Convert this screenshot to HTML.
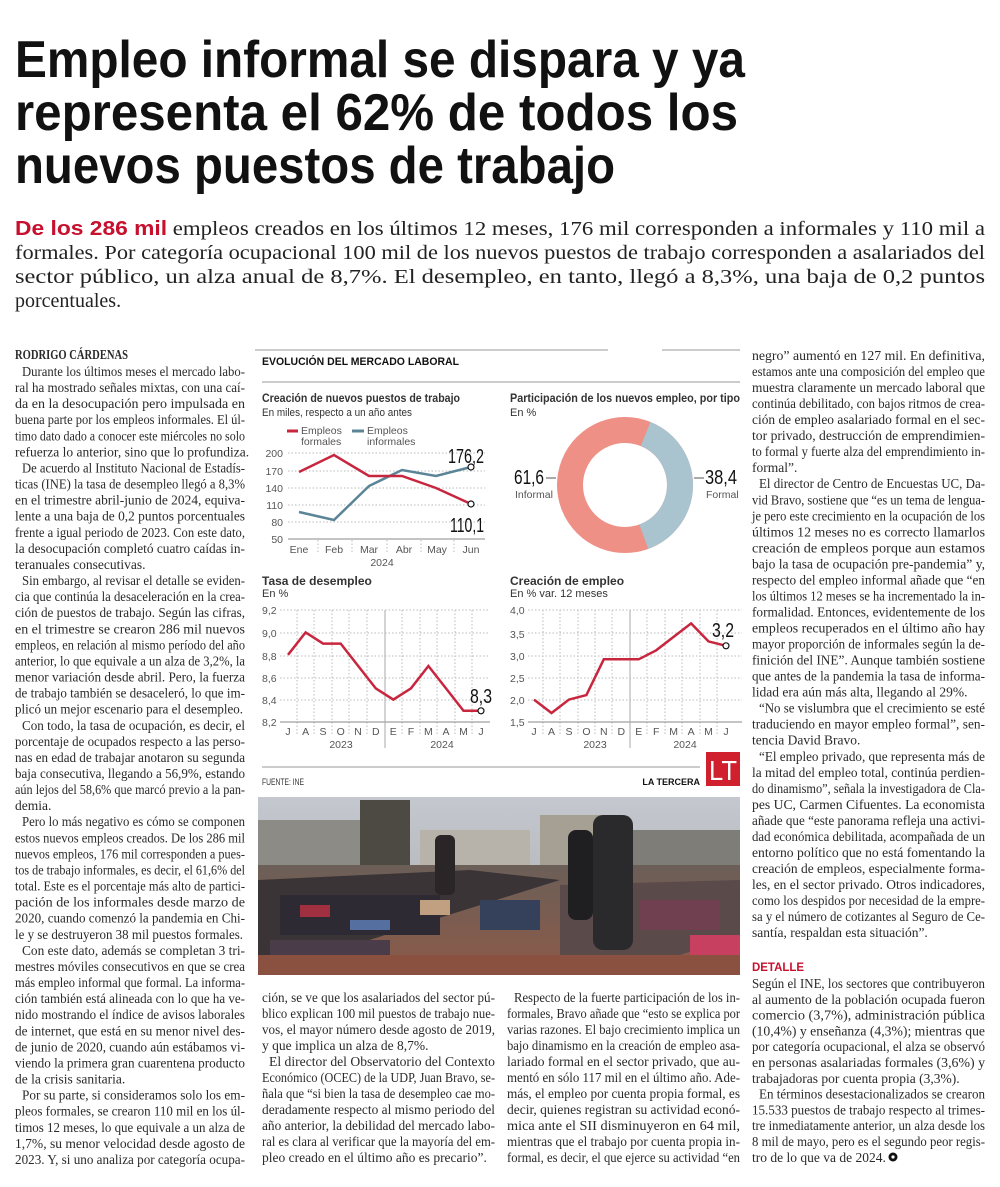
<!DOCTYPE html>
<html><head><meta charset="utf-8"><style>
html,body{margin:0;padding:0;background:#fff;}
svg{display:block}
.t{font-family:"Liberation Sans",sans-serif;font-weight:bold;font-size:52px;fill:#111}
.l{font-family:"Liberation Serif",serif;font-size:20px;fill:#222}
.b{font-family:"Liberation Serif",serif;font-size:13.5px;fill:#2a2a2a}
.s{font-family:"Liberation Sans",sans-serif;fill:#333}
.ax{font-family:"Liberation Sans",sans-serif;font-size:10.5px;fill:#555}
.g{stroke:#bbb;stroke-width:1;stroke-dasharray:1.5 2}
</style></head><body>
<svg width="1000" height="1187" viewBox="0 0 1000 1187" xmlns="http://www.w3.org/2000/svg">
<rect width="1000" height="1187" fill="#fff"/>
<text class="t" x="15" y="77" textLength="730" lengthAdjust="spacingAndGlyphs">Empleo informal se dispara y ya</text>
<text class="t" x="15" y="130" textLength="723" lengthAdjust="spacingAndGlyphs">representa el 62% de todos los</text>
<text class="t" x="15" y="183" textLength="600" lengthAdjust="spacingAndGlyphs">nuevos puestos de trabajo</text>
<text class="l" x="15" y="235" textLength="970" lengthAdjust="spacingAndGlyphs"><tspan fill="#c8102e" font-weight="bold" font-family="Liberation Sans, sans-serif">De los 286 mil</tspan> empleos creados en los últimos 12 meses, 176 mil corresponden a informales y 110 mil a</text>
<text class="l" x="15" y="259" textLength="970" lengthAdjust="spacingAndGlyphs">formales. Por categoría ocupacional 100 mil de los nuevos puestos de trabajo corresponden a asalariados del</text>
<text class="l" x="15" y="283" textLength="970" lengthAdjust="spacingAndGlyphs">sector público, un alza anual de 8,7%. El desempleo, en tanto, llegó a 8,3%, una baja de 0,2 puntos</text>
<text class="l" x="15" y="307">porcentuales.</text>

<text class="b" x="15" y="359" font-weight="bold" font-size="11" textLength="113" lengthAdjust="spacingAndGlyphs">RODRIGO CÁRDENAS</text>
<g class="b">
<text x="22" y="376" textLength="223" lengthAdjust="spacingAndGlyphs">Durante los últimos meses el mercado labo-</text>
<text x="15" y="392.1" textLength="230" lengthAdjust="spacingAndGlyphs">ral ha mostrado señales mixtas, con una caí-</text>
<text x="15" y="408.2" textLength="230" lengthAdjust="spacingAndGlyphs">da en la desocupación pero impulsada en</text>
<text x="15" y="424.2" textLength="230" lengthAdjust="spacingAndGlyphs">buena parte por los empleos informales. El úl-</text>
<text x="15" y="440.3" textLength="230" lengthAdjust="spacingAndGlyphs">timo dato dado a conocer este miércoles no solo</text>
<text x="15" y="456.4">refuerza lo anterior, sino que lo profundiza.</text>
<text x="22" y="472.5" textLength="223" lengthAdjust="spacingAndGlyphs">De acuerdo al Instituto Nacional de Estadís-</text>
<text x="15" y="488.6" textLength="230" lengthAdjust="spacingAndGlyphs">ticas (INE) la tasa de desempleo llegó a 8,3%</text>
<text x="15" y="504.6" textLength="230" lengthAdjust="spacingAndGlyphs">en el trimestre abril-junio de 2024, equiva-</text>
<text x="15" y="520.7" textLength="230" lengthAdjust="spacingAndGlyphs">lente a una baja de 0,2 puntos porcentuales</text>
<text x="15" y="536.8" textLength="230" lengthAdjust="spacingAndGlyphs">frente a igual periodo de 2023. Con este dato,</text>
<text x="15" y="552.9" textLength="230" lengthAdjust="spacingAndGlyphs">la desocupación completó cuatro caídas in-</text>
<text x="15" y="569">teranuales consecutivas.</text>
<text x="22" y="585" textLength="223" lengthAdjust="spacingAndGlyphs">Sin embargo, al revisar el detalle se eviden-</text>
<text x="15" y="601.1" textLength="230" lengthAdjust="spacingAndGlyphs">cia que continúa la desaceleración en la crea-</text>
<text x="15" y="617.2" textLength="230" lengthAdjust="spacingAndGlyphs">ción de puestos de trabajo. Según las cifras,</text>
<text x="15" y="633.3" textLength="230" lengthAdjust="spacingAndGlyphs">en el trimestre se crearon 286 mil nuevos</text>
<text x="15" y="649.4" textLength="230" lengthAdjust="spacingAndGlyphs">empleos, en relación al mismo período del año</text>
<text x="15" y="665.4" textLength="230" lengthAdjust="spacingAndGlyphs">anterior, lo que equivale a un alza de 3,2%, la</text>
<text x="15" y="681.5" textLength="230" lengthAdjust="spacingAndGlyphs">menor variación desde abril. Pero, la fuerza</text>
<text x="15" y="697.6" textLength="230" lengthAdjust="spacingAndGlyphs">de trabajo también se desaceleró, lo que im-</text>
<text x="15" y="713.7" textLength="228" lengthAdjust="spacingAndGlyphs">plicó un mejor escenario para el desempleo.</text>
<text x="22" y="729.8" textLength="223" lengthAdjust="spacingAndGlyphs">Con todo, la tasa de ocupación, es decir, el</text>
<text x="15" y="745.8" textLength="230" lengthAdjust="spacingAndGlyphs">porcentaje de ocupados respecto a las perso-</text>
<text x="15" y="761.9" textLength="230" lengthAdjust="spacingAndGlyphs">nas en edad de trabajar anotaron su segunda</text>
<text x="15" y="778" textLength="230" lengthAdjust="spacingAndGlyphs">baja consecutiva, llegando a 56,9%, estando</text>
<text x="15" y="794.1" textLength="230" lengthAdjust="spacingAndGlyphs">aún lejos del 58,6% que marcó previo a la pan-</text>
<text x="15" y="810.2">demia.</text>
<text x="22" y="826.2" textLength="223" lengthAdjust="spacingAndGlyphs">Pero lo más negativo es cómo se componen</text>
<text x="15" y="842.3" textLength="230" lengthAdjust="spacingAndGlyphs">estos nuevos empleos creados. De los 286 mil</text>
<text x="15" y="858.4" textLength="230" lengthAdjust="spacingAndGlyphs">nuevos empleos, 176 mil corresponden a pues-</text>
<text x="15" y="874.5" textLength="230" lengthAdjust="spacingAndGlyphs">tos de trabajo informales, es decir, el 61,6% del</text>
<text x="15" y="890.6" textLength="230" lengthAdjust="spacingAndGlyphs">total. Este es el porcentaje más alto de partici-</text>
<text x="15" y="906.6" textLength="230" lengthAdjust="spacingAndGlyphs">pación de los informales desde marzo de</text>
<text x="15" y="922.7" textLength="230" lengthAdjust="spacingAndGlyphs">2020, cuando comenzó la pandemia en Chi-</text>
<text x="15" y="938.8" textLength="228" lengthAdjust="spacingAndGlyphs">le y se destruyeron 38 mil puestos formales.</text>
<text x="22" y="954.9" textLength="223" lengthAdjust="spacingAndGlyphs">Con este dato, además se completan 3 tri-</text>
<text x="15" y="971" textLength="230" lengthAdjust="spacingAndGlyphs">mestres móviles consecutivos en que se crea</text>
<text x="15" y="987" textLength="230" lengthAdjust="spacingAndGlyphs">más empleo informal que formal. La informa-</text>
<text x="15" y="1003.1" textLength="230" lengthAdjust="spacingAndGlyphs">ción también está alineada con lo que ha ve-</text>
<text x="15" y="1019.2" textLength="230" lengthAdjust="spacingAndGlyphs">nido mostrando el índice de avisos laborales</text>
<text x="15" y="1035.3" textLength="230" lengthAdjust="spacingAndGlyphs">de internet, que está en su menor nivel des-</text>
<text x="15" y="1051.4" textLength="230" lengthAdjust="spacingAndGlyphs">de junio de 2020, cuando aún estábamos vi-</text>
<text x="15" y="1067.4" textLength="230" lengthAdjust="spacingAndGlyphs">viendo la primera gran cuarentena producto</text>
<text x="15" y="1083.5">de la crisis sanitaria.</text>
<text x="22" y="1099.6" textLength="223" lengthAdjust="spacingAndGlyphs">Por su parte, si consideramos solo los em-</text>
<text x="15" y="1115.7" textLength="230" lengthAdjust="spacingAndGlyphs">pleos formales, se crearon 110 mil en los úl-</text>
<text x="15" y="1131.8" textLength="230" lengthAdjust="spacingAndGlyphs">timos 12 meses, lo que equivale a un alza de</text>
<text x="15" y="1147.8" textLength="230" lengthAdjust="spacingAndGlyphs">1,7%, su menor velocidad desde agosto de</text>
<text x="15" y="1163.9" textLength="230" lengthAdjust="spacingAndGlyphs">2023. Y, si uno analiza por categoría ocupa-</text>
</g>

<g class="b">
<text x="752" y="360" textLength="233" lengthAdjust="spacingAndGlyphs">negro” aumentó en 127 mil. En definitiva,</text>
<text x="752" y="376" textLength="233" lengthAdjust="spacingAndGlyphs">estamos ante una composición del empleo que</text>
<text x="752" y="392.1" textLength="233" lengthAdjust="spacingAndGlyphs">muestra claramente un mercado laboral que</text>
<text x="752" y="408.1" textLength="233" lengthAdjust="spacingAndGlyphs">continúa debilitado, con bajos ritmos de crea-</text>
<text x="752" y="424.1" textLength="233" lengthAdjust="spacingAndGlyphs">ción de empleo asalariado formal en el sec-</text>
<text x="752" y="440.2" textLength="233" lengthAdjust="spacingAndGlyphs">tor privado, destrucción de emprendimien-</text>
<text x="752" y="456.2" textLength="233" lengthAdjust="spacingAndGlyphs">to formal y fuerte alza del emprendimiento in-</text>
<text x="752" y="472.2">formal”.</text>
<text x="759" y="488.2" textLength="226" lengthAdjust="spacingAndGlyphs">El director de Centro de Encuestas UC, Da-</text>
<text x="752" y="504.3" textLength="233" lengthAdjust="spacingAndGlyphs">vid Bravo, sostiene que “es un tema de lengua-</text>
<text x="752" y="520.3" textLength="233" lengthAdjust="spacingAndGlyphs">je pero este crecimiento en la ocupación de los</text>
<text x="752" y="536.3" textLength="233" lengthAdjust="spacingAndGlyphs">últimos 12 meses no es correcto llamarlos</text>
<text x="752" y="552.4" textLength="233" lengthAdjust="spacingAndGlyphs">creación de empleos porque aun estamos</text>
<text x="752" y="568.4" textLength="233" lengthAdjust="spacingAndGlyphs">bajo la tasa de ocupación pre-pandemia” y,</text>
<text x="752" y="584.4" textLength="233" lengthAdjust="spacingAndGlyphs">respecto del empleo informal añade que “en</text>
<text x="752" y="600.4" textLength="233" lengthAdjust="spacingAndGlyphs">los últimos 12 meses se ha incrementado la in-</text>
<text x="752" y="616.5" textLength="233" lengthAdjust="spacingAndGlyphs">formalidad. Entonces, evidentemente de los</text>
<text x="752" y="632.5" textLength="233" lengthAdjust="spacingAndGlyphs">empleos recuperados en el último año hay</text>
<text x="752" y="648.5" textLength="233" lengthAdjust="spacingAndGlyphs">mayor proporción de informales según la de-</text>
<text x="752" y="664.6" textLength="233" lengthAdjust="spacingAndGlyphs">finición del INE”. Aunque también sostiene</text>
<text x="752" y="680.6" textLength="233" lengthAdjust="spacingAndGlyphs">que antes de la pandemia la tasa de informa-</text>
<text x="752" y="696.6">lidad era aún más alta, llegando al 29%.</text>
<text x="759" y="712.7" textLength="226" lengthAdjust="spacingAndGlyphs">“No se vislumbra que el crecimiento se esté</text>
<text x="752" y="728.7" textLength="233" lengthAdjust="spacingAndGlyphs">traduciendo en mayor empleo formal”, sen-</text>
<text x="752" y="744.7">tencia David Bravo.</text>
<text x="759" y="760.8" textLength="226" lengthAdjust="spacingAndGlyphs">“El empleo privado, que representa más de</text>
<text x="752" y="776.8" textLength="233" lengthAdjust="spacingAndGlyphs">la mitad del empleo total, continúa perdien-</text>
<text x="752" y="792.8" textLength="233" lengthAdjust="spacingAndGlyphs">do dinamismo”, señala la investigadora de Cla-</text>
<text x="752" y="808.9" textLength="233" lengthAdjust="spacingAndGlyphs">pes UC, Carmen Cifuentes. La economista</text>
<text x="752" y="824.9" textLength="233" lengthAdjust="spacingAndGlyphs">añade que “este panorama refleja una activi-</text>
<text x="752" y="840.9" textLength="233" lengthAdjust="spacingAndGlyphs">dad económica debilitada, acompañada de un</text>
<text x="752" y="857" textLength="233" lengthAdjust="spacingAndGlyphs">entorno político que no está fomentando la</text>
<text x="752" y="873" textLength="233" lengthAdjust="spacingAndGlyphs">creación de empleos, especialmente forma-</text>
<text x="752" y="889" textLength="233" lengthAdjust="spacingAndGlyphs">les, en el sector privado. Otros indicadores,</text>
<text x="752" y="905" textLength="233" lengthAdjust="spacingAndGlyphs">como los despidos por necesidad de la empre-</text>
<text x="752" y="921.1" textLength="233" lengthAdjust="spacingAndGlyphs">sa y el número de cotizantes al Seguro de Ce-</text>
<text x="752" y="937.1">santía, respaldan esta situación”.</text>
</g>
<text x="752" y="971" font-family="Liberation Sans, sans-serif" font-weight="bold" font-size="12" fill="#c8102e" textLength="52" lengthAdjust="spacingAndGlyphs">DETALLE</text>
<g class="b">
<text x="752" y="988" textLength="233" lengthAdjust="spacingAndGlyphs">Según el INE, los sectores que contribuyeron</text>
<text x="752" y="1003.8" textLength="233" lengthAdjust="spacingAndGlyphs">al aumento de la población ocupada fueron</text>
<text x="752" y="1019.6" textLength="233" lengthAdjust="spacingAndGlyphs">comercio (3,7%), administración pública</text>
<text x="752" y="1035.4" textLength="233" lengthAdjust="spacingAndGlyphs">(10,4%) y enseñanza (4,3%); mientras que</text>
<text x="752" y="1051.2" textLength="233" lengthAdjust="spacingAndGlyphs">por categoría ocupacional, el alza se observó</text>
<text x="752" y="1067" textLength="233" lengthAdjust="spacingAndGlyphs">en personas asalariadas formales (3,6%) y</text>
<text x="752" y="1082.8">trabajadoras por cuenta propia (3,3%).</text>
<text x="759" y="1098.6" textLength="226" lengthAdjust="spacingAndGlyphs">En términos desestacionalizados se crearon</text>
<text x="752" y="1114.4" textLength="233" lengthAdjust="spacingAndGlyphs">15.533 puestos de trabajo respecto al trimes-</text>
<text x="752" y="1130.2" textLength="233" lengthAdjust="spacingAndGlyphs">tre inmediatamente anterior, un alza desde los</text>
<text x="752" y="1146" textLength="233" lengthAdjust="spacingAndGlyphs">8 mil de mayo, pero es el segundo peor regis-</text>
<text x="752" y="1161.8">tro de lo que va de 2024.</text>
</g>
<circle cx="893" cy="1157" r="4.5" fill="#111"/><circle cx="893" cy="1157" r="1.6" fill="#fff"/>

<g class="b">
<text x="262" y="1002" textLength="233" lengthAdjust="spacingAndGlyphs">ción, se ve que los asalariados del sector pú-</text>
<text x="262" y="1018" textLength="233" lengthAdjust="spacingAndGlyphs">blico explican 100 mil puestos de trabajo nue-</text>
<text x="262" y="1034" textLength="233" lengthAdjust="spacingAndGlyphs">vos, el mayor número desde agosto de 2019,</text>
<text x="262" y="1050">y que implica un alza de 8,7%.</text>
<text x="269" y="1066" textLength="226" lengthAdjust="spacingAndGlyphs">El director del Observatorio del Contexto</text>
<text x="262" y="1082" textLength="233" lengthAdjust="spacingAndGlyphs">Económico (OCEC) de la UDP, Juan Bravo, se-</text>
<text x="262" y="1098" textLength="233" lengthAdjust="spacingAndGlyphs">ñala que “si bien la tasa de desempleo cae mo-</text>
<text x="262" y="1114" textLength="233" lengthAdjust="spacingAndGlyphs">deradamente respecto al mismo periodo del</text>
<text x="262" y="1130" textLength="233" lengthAdjust="spacingAndGlyphs">año anterior, la debilidad del mercado labo-</text>
<text x="262" y="1146" textLength="233" lengthAdjust="spacingAndGlyphs">ral es clara al verificar que la mayoría del em-</text>
<text x="262" y="1162">pleo creado en el último año es precario”.</text>
<text x="514" y="1002" textLength="226" lengthAdjust="spacingAndGlyphs">Respecto de la fuerte participación de los in-</text>
<text x="507" y="1018" textLength="233" lengthAdjust="spacingAndGlyphs">formales, Bravo añade que “esto se explica por</text>
<text x="507" y="1034" textLength="233" lengthAdjust="spacingAndGlyphs">varias razones. El bajo crecimiento implica un</text>
<text x="507" y="1050" textLength="233" lengthAdjust="spacingAndGlyphs">bajo dinamismo en la creación de empleo asa-</text>
<text x="507" y="1066" textLength="233" lengthAdjust="spacingAndGlyphs">lariado formal en el sector privado, que au-</text>
<text x="507" y="1082" textLength="233" lengthAdjust="spacingAndGlyphs">mentó en sólo 117 mil en el último año. Ade-</text>
<text x="507" y="1098" textLength="233" lengthAdjust="spacingAndGlyphs">más, el empleo por cuenta propia formal, es</text>
<text x="507" y="1114" textLength="233" lengthAdjust="spacingAndGlyphs">decir, quienes registran su actividad econó-</text>
<text x="507" y="1130" textLength="233" lengthAdjust="spacingAndGlyphs">mica ante el SII disminuyeron en 64 mil,</text>
<text x="507" y="1146" textLength="233" lengthAdjust="spacingAndGlyphs">mientras que el trabajo por cuenta propia in-</text>
<text x="507" y="1162" textLength="233" lengthAdjust="spacingAndGlyphs">formal, es decir, el que ejerce su actividad “en</text>
</g>

<line x1="255" y1="350" x2="608" y2="350" stroke="#999" stroke-width="1"/>
<line x1="662" y1="350" x2="740" y2="350" stroke="#999" stroke-width="1"/>
<text x="262" y="365" font-family="Liberation Sans, sans-serif" font-weight="bold" font-size="11" fill="#111" textLength="197" lengthAdjust="spacingAndGlyphs">EVOLUCIÓN DEL MERCADO LABORAL</text>
<line x1="262" y1="382" x2="740" y2="382" stroke="#999" stroke-width="1"/>

<text class="s" x="262" y="402" font-weight="bold" font-size="12" fill="#111" textLength="198" lengthAdjust="spacingAndGlyphs">Creación de nuevos puestos de trabajo</text>
<text class="s" x="262" y="416" font-size="11" textLength="150" lengthAdjust="spacingAndGlyphs">En miles, respecto a un año antes</text>
<line x1="287" y1="431" x2="298" y2="431" stroke="#c8263e" stroke-width="3"/>
<text class="ax" x="301" y="434" font-size="10">Empleos</text><text class="ax" x="301" y="445" font-size="10">formales</text>
<line x1="352" y1="431" x2="364" y2="431" stroke="#5b8497" stroke-width="3"/>
<text class="ax" x="367" y="434" font-size="10">Empleos</text><text class="ax" x="367" y="445" font-size="10">informales</text>
<g class="ax" text-anchor="end">
<text x="283" y="457">200</text><text x="283" y="475">170</text><text x="283" y="492">140</text><text x="283" y="509">110</text><text x="283" y="526">80</text><text x="283" y="543">50</text>
</g>
<g class="g"><line x1="288" y1="453" x2="485" y2="453"/><line x1="288" y1="471" x2="485" y2="471"/><line x1="288" y1="488" x2="485" y2="488"/><line x1="288" y1="505" x2="485" y2="505"/><line x1="288" y1="522" x2="485" y2="522"/></g>
<line x1="288" y1="539" x2="485" y2="539" stroke="#888"/>
<g class="g"><line x1="318" y1="540" x2="318" y2="553"/><line x1="352" y1="540" x2="352" y2="553"/><line x1="387" y1="540" x2="387" y2="553"/><line x1="421" y1="540" x2="421" y2="553"/><line x1="454" y1="540" x2="454" y2="553"/></g>
<g class="ax" text-anchor="middle">
<text x="299" y="553">Ene</text><text x="334" y="553">Feb</text><text x="369" y="553">Mar</text><text x="404" y="553">Abr</text><text x="437" y="553">May</text><text x="471" y="553">Jun</text><text x="382" y="566">2024</text>
</g>
<polyline points="299,512 334,520 369,486 402,470 436,476 471,467" fill="none" stroke="#5b8497" stroke-width="2.5"/>
<polyline points="299,472 334,455 369,476 402,476 436,488 471,504" fill="none" stroke="#c8263e" stroke-width="2.5"/>
<circle cx="471" cy="467" r="3" fill="#fff" stroke="#111" stroke-width="1.2"/>
<circle cx="471" cy="504" r="3" fill="#fff" stroke="#111" stroke-width="1.2"/>
<text x="448" y="463" font-family="Liberation Sans, sans-serif" font-size="20" fill="#111" textLength="36" lengthAdjust="spacingAndGlyphs">176,2</text>
<text x="450" y="532" font-family="Liberation Sans, sans-serif" font-size="20" fill="#111" textLength="34" lengthAdjust="spacingAndGlyphs">110,1</text>

<text class="s" x="510" y="402" font-weight="bold" font-size="12" fill="#111" textLength="230" lengthAdjust="spacingAndGlyphs">Participación de los nuevos empleo, por tipo</text>
<text class="s" x="510" y="416" font-size="11">En %</text>
<circle cx="625" cy="485" r="55" fill="none" stroke="#ee9085" stroke-width="26"/>
<path d="M645.6,434 A55,55 0 0 1 643.8,536.7" fill="none" stroke="#a9c3cf" stroke-width="26"/>
<text x="514" y="484" font-family="Liberation Sans, sans-serif" font-size="20" fill="#111" textLength="30" lengthAdjust="spacingAndGlyphs">61,6</text>
<line x1="546" y1="478" x2="556" y2="478" stroke="#555"/>
<text class="ax" x="515" y="498" font-size="10.5" fill="#333">Informal</text>
<text x="705" y="484" font-family="Liberation Sans, sans-serif" font-size="20" fill="#111" textLength="32" lengthAdjust="spacingAndGlyphs">38,4</text>
<line x1="694" y1="478" x2="704" y2="478" stroke="#555"/>
<text class="ax" x="706" y="498" font-size="10.5" fill="#333">Formal</text>

<text class="s" x="262" y="585" font-weight="bold" font-size="12" fill="#111">Tasa de desempleo</text>
<text class="s" x="262" y="597" font-size="11">En %</text>
<g class="ax"><text x="262" y="614">9,2</text><text x="262" y="637">9,0</text><text x="262" y="660">8,8</text><text x="262" y="682">8,6</text><text x="262" y="704">8,4</text><text x="262" y="726">8,2</text></g>
<g class="g"><line x1="280" y1="610" x2="490" y2="610"/><line x1="280" y1="633" x2="490" y2="633"/><line x1="280" y1="656" x2="490" y2="656"/><line x1="280" y1="678" x2="490" y2="678"/><line x1="280" y1="700" x2="490" y2="700"/>
<line x1="297" y1="610" x2="297" y2="735"/><line x1="314" y1="610" x2="314" y2="735"/><line x1="332" y1="610" x2="332" y2="735"/><line x1="349" y1="610" x2="349" y2="735"/><line x1="367" y1="610" x2="367" y2="735"/><line x1="402" y1="610" x2="402" y2="735"/><line x1="420" y1="610" x2="420" y2="735"/><line x1="437" y1="610" x2="437" y2="735"/><line x1="455" y1="610" x2="455" y2="735"/><line x1="472" y1="610" x2="472" y2="735"/></g>
<line x1="280" y1="722" x2="490" y2="722" stroke="#888"/>
<line x1="385" y1="610" x2="385" y2="748" stroke="#aaa"/>
<g class="ax" text-anchor="middle"><text x="288" y="735">J</text><text x="305.6" y="735">A</text><text x="323" y="735">S</text><text x="340.7" y="735">O</text><text x="358" y="735">N</text><text x="375.8" y="735">D</text><text x="393.3" y="735">E</text><text x="411" y="735">F</text><text x="428.4" y="735">M</text><text x="446" y="735">A</text><text x="463.5" y="735">M</text><text x="481" y="735">J</text>
<text x="341" y="748">2023</text><text x="442" y="748">2024</text></g>
<polyline points="288,654.8 305.6,632.4 323.1,643.6 340.7,643.6 358.2,666 375.8,688.4 393.3,699.6 410.9,688.4 428.4,666 446,688.4 463.5,710.8 481,710.8" fill="none" stroke="#c8263e" stroke-width="2.5"/>
<circle cx="481" cy="710.8" r="3" fill="#fff" stroke="#111" stroke-width="1.2"/>
<text x="470" y="703" font-family="Liberation Sans, sans-serif" font-size="20" fill="#111" textLength="22" lengthAdjust="spacingAndGlyphs">8,3</text>

<text class="s" x="510" y="585" font-weight="bold" font-size="12" fill="#111">Creación de empleo</text>
<text class="s" x="510" y="597" font-size="11">En % var. 12 meses</text>
<g class="ax"><text x="510" y="614">4,0</text><text x="510" y="638">3,5</text><text x="510" y="660">3,0</text><text x="510" y="682">2,5</text><text x="510" y="704">2,0</text><text x="510" y="726">1,5</text></g>
<g class="g"><line x1="528" y1="610" x2="742" y2="610"/><line x1="528" y1="633" x2="742" y2="633"/><line x1="528" y1="656" x2="742" y2="656"/><line x1="528" y1="678" x2="742" y2="678"/><line x1="528" y1="700" x2="742" y2="700"/>
<line x1="543" y1="610" x2="543" y2="735"/><line x1="560" y1="610" x2="560" y2="735"/><line x1="578" y1="610" x2="578" y2="735"/><line x1="595" y1="610" x2="595" y2="735"/><line x1="612" y1="610" x2="612" y2="735"/><line x1="647" y1="610" x2="647" y2="735"/><line x1="665" y1="610" x2="665" y2="735"/><line x1="682" y1="610" x2="682" y2="735"/><line x1="700" y1="610" x2="700" y2="735"/><line x1="717" y1="610" x2="717" y2="735"/></g>
<line x1="528" y1="722" x2="742" y2="722" stroke="#888"/>
<line x1="630" y1="610" x2="630" y2="748" stroke="#aaa"/>
<g class="ax" text-anchor="middle"><text x="534" y="735">J</text><text x="551.5" y="735">A</text><text x="569" y="735">S</text><text x="586.4" y="735">O</text><text x="603.8" y="735">N</text><text x="621.3" y="735">D</text><text x="638.7" y="735">E</text><text x="656.2" y="735">F</text><text x="673.6" y="735">M</text><text x="691.1" y="735">A</text><text x="708.5" y="735">M</text><text x="726" y="735">J</text>
<text x="595" y="748">2023</text><text x="685" y="748">2024</text></g>
<polyline points="534,699.6 551.5,713 568.9,699.6 586.4,695.1 603.8,659.3 621.3,659.3 638.7,659.3 656.2,650.3 673.6,636.9 691.1,623.4 708.5,641.4 726,645.8" fill="none" stroke="#c8263e" stroke-width="2.5"/>
<circle cx="726" cy="645.8" r="3" fill="#fff" stroke="#111" stroke-width="1.2"/>
<text x="712" y="637" font-family="Liberation Sans, sans-serif" font-size="20" fill="#111" textLength="22" lengthAdjust="spacingAndGlyphs">3,2</text>

<line x1="262" y1="767" x2="700" y2="767" stroke="#999"/>
<text x="262" y="785" font-family="Liberation Sans, sans-serif" font-size="9" fill="#333" textLength="42" lengthAdjust="spacingAndGlyphs">FUENTE: INE</text>
<text x="700" y="785" text-anchor="end" font-family="Liberation Sans, sans-serif" font-weight="bold" font-size="9" fill="#111">LA TERCERA</text>
<rect x="706" y="752" width="34" height="34" fill="#d0202e"/>
<text x="723" y="780" text-anchor="middle" font-family="Liberation Sans, sans-serif" font-size="28" fill="#fff" textLength="28" lengthAdjust="spacingAndGlyphs">LT</text>

<defs>
<linearGradient id="sky" x1="0" y1="0" x2="0" y2="1"><stop offset="0" stop-color="#c4c8cf"/><stop offset="1" stop-color="#a9aaa9"/></linearGradient>
<linearGradient id="grd" x1="0" y1="0" x2="0" y2="1"><stop offset="0" stop-color="#6b5f58"/><stop offset="1" stop-color="#8c5a48"/></linearGradient>
</defs>
<rect x="258" y="797" width="482" height="178" fill="url(#sky)"/>
<rect x="258" y="820" width="110" height="60" fill="#8d8b85"/>
<rect x="360" y="800" width="50" height="80" fill="#4d4a44"/>
<rect x="420" y="830" width="110" height="40" fill="#b7b3aa"/>
<rect x="540" y="815" width="70" height="55" fill="#a59f94"/>
<rect x="620" y="830" width="120" height="45" fill="#7f7d78"/>
<rect x="258" y="865" width="482" height="110" fill="url(#grd)"/>
<polygon points="258,880 470,870 560,880 258,975" fill="#3a3436"/>
<polygon points="560,885 740,880 740,935 620,975 560,975" fill="#5b4a4a"/>
<rect x="280" y="895" width="160" height="40" fill="#2e2a33"/>
<rect x="300" y="905" width="30" height="12" fill="#a03040"/>
<rect x="350" y="920" width="40" height="10" fill="#5570a0"/>
<rect x="420" y="900" width="30" height="15" fill="#c0a080"/>
<rect x="270" y="940" width="120" height="25" fill="#4a3c48"/>
<rect x="480" y="900" width="60" height="30" fill="#35405a"/>
<rect x="640" y="900" width="80" height="30" fill="#704050"/>
<rect x="690" y="935" width="50" height="25" fill="#c84060"/>
<rect x="593" y="815" width="40" height="135" rx="10" fill="#2a2a2c"/>
<rect x="568" y="830" width="25" height="90" rx="8" fill="#1f1f22"/>
<rect x="435" y="835" width="20" height="60" rx="6" fill="#2a2628"/>
<rect x="258" y="955" width="482" height="20" fill="#8a5040"/>
</svg>
</body></html>
